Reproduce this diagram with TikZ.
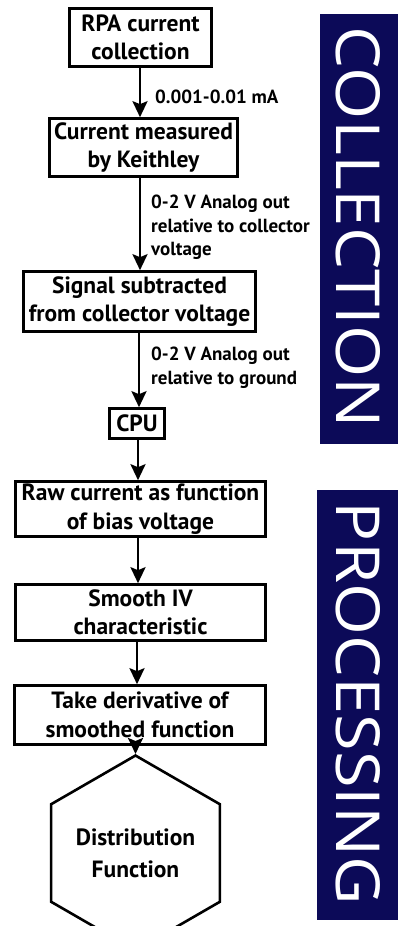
\documentclass[tikz,border=0pt]{standalone}
\usepackage{graphicx}
\usepackage{fontspec}
\setmainfont{PT Sans}
\newfontfamily\bannerfont{Open Sans}
\usetikzlibrary{arrows.meta,shapes.geometric}
\definecolor{rpanavy}{RGB}{12,10,88}

\begin{document}
\begin{tikzpicture}[x=1pt,y=-1pt,
    stepbox/.style={rectangle, draw, line width=2.6pt, align=center, inner sep=1pt,
                    font=\fontsize{23.5}{28.5}\selectfont\bfseries},
    signal/.style={anchor=north west, align=left, inner sep=0pt,
                   font=\fontsize{19}{23.5}\selectfont\bfseries},
    arr/.style={-{Stealth[length=16pt,width=15pt,inset=3pt]}, line width=2.6pt},
    banner/.style={rotate=-90, text=white, inner sep=0pt}
  ]
  \useasboundingbox (0,0) rectangle (398,926);

  % side banners
  \fill[rpanavy] (320,14) rectangle (398,444);
  \fill[rpanavy] (317,490) rectangle (398,920);
  \node[banner] (coltext) at (358.5,227.5) {\resizebox{401pt}{44pt}{\bannerfont COLLECTION}};
  \node[banner] (proctext) at (358.5,703.5) {\resizebox{403pt}{44pt}{\bannerfont PROCESSING}};

  % collection chain
  \node[stepbox, minimum width=142pt, minimum height=58pt] (rpa)    at (140.5,37.5) {RPA current\\collection};
  \node[stepbox, minimum width=188pt, minimum height=58pt] (keith)  at (143.5,147.5) {Current measured\\by Keithley};
  \node[stepbox, minimum width=232pt, minimum height=60pt] (subtr)  at (139.5,301.5) {Signal subtracted\\from collector voltage};
  \node[stepbox, minimum width=55pt,  minimum height=30pt] (cpu)    at (137,423.5) {CPU};

  % processing chain
  \node[stepbox, minimum width=250pt, minimum height=55pt] (raw)    at (140.5,509) {Raw current as function\\of bias voltage};
  \node[stepbox, minimum width=250pt, minimum height=56pt] (smooth) at (140.5,612.5) {Smooth IV\\characteristic};
  \node[stepbox, minimum width=251pt, minimum height=59pt] (deriv)  at (140,715) {Take derivative of\\smoothed function};
  \node[regular polygon, regular polygon sides=6, shape border rotate=30, draw, line width=2.6pt,
        minimum size=142pt, inner sep=0pt, align=center,
        font=\fontsize{23.5}{32}\selectfont\bfseries] (dist) at (135.5,853) {Distribution\\Function};

  \draw[arr] (rpa.south -| 140,0) -- (keith.north -| 140,0);
  \draw[arr] (keith.south -| 140,0) -- (subtr.north -| 140,0);
  \draw[arr] (subtr.south -| 139,0) -- (cpu.north -| 139,0);
  \draw[arr] (cpu.south -| 138,0) -- (raw.north -| 138,0);
  \draw[arr] (raw.south -| 138,0) -- (smooth.north -| 138,0);
  \draw[arr] (smooth.south -| 137,0) -- (deriv.north -| 137,0);
  \draw[arr] (deriv.south -| dist.north) -- (dist.north);

  % signal levels
  \node[signal, anchor=west] (lvl1) at (155,97) {0.001-0.01 mA};
  \node[signal] (lvl2) at (151,195) {0-2 V Analog out\\relative to collector\\voltage};
  \node[signal] (lvl3) at (151,347) {0-2 V Analog out\\relative to ground};
\end{tikzpicture}
\end{document}
